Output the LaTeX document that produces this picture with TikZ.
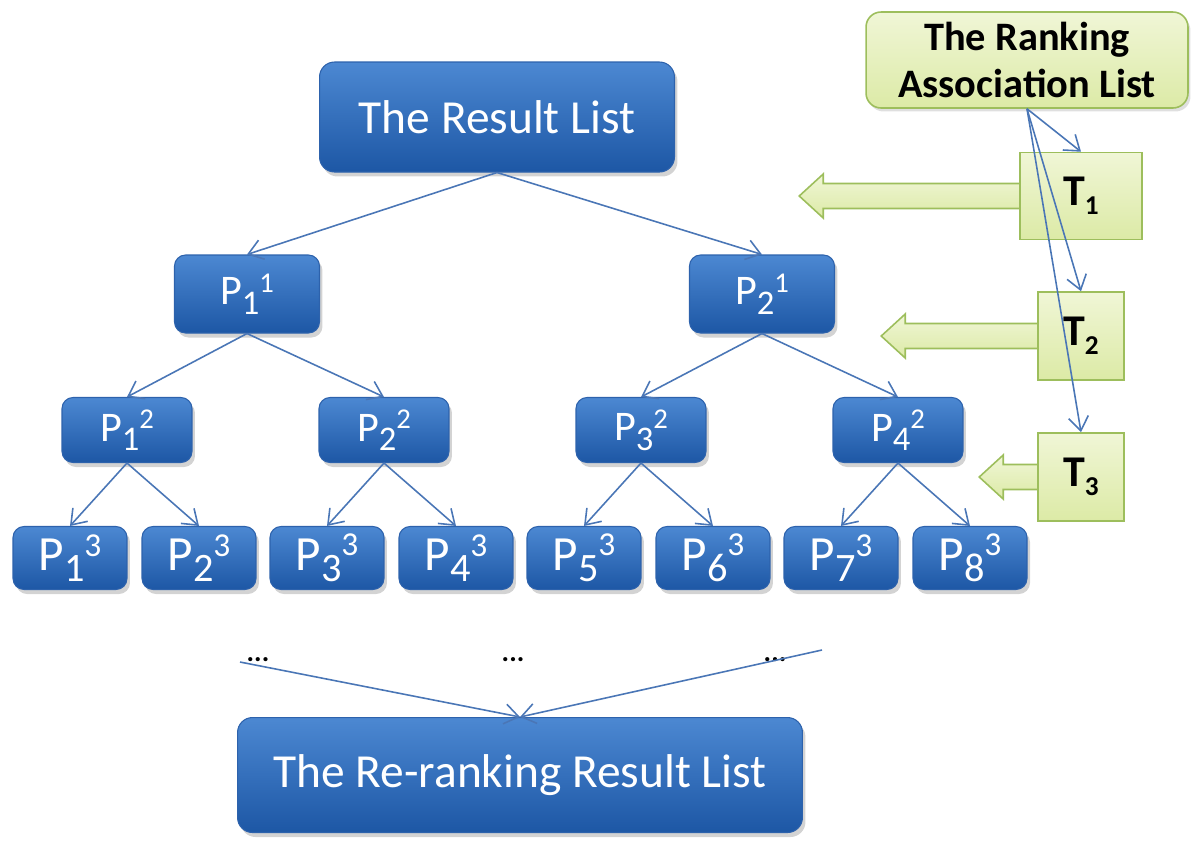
\documentclass[tikz,border=0pt]{standalone}
\usepackage{fontspec}
\setmainfont{Carlito}
\usepackage{tikz}
\usetikzlibrary{arrows.meta,backgrounds,positioning,shadows}
\definecolor{boxtop}{HTML}{4C88D2}
\definecolor{boxbottom}{HTML}{1D57A5}
\definecolor{boxdraw}{HTML}{2D62AC}
\definecolor{edgecolor}{HTML}{4A76B6}
\definecolor{greentop}{HTML}{F0F6D6}
\definecolor{greenbottom}{HTML}{DCEAA6}
\definecolor{greendraw}{HTML}{9DBE5C}
\tikzset{
  >={Straight Barb[length=2.8mm,width=4mm]},
  result box/.style={
    rounded corners=3mm,
    draw=boxdraw,
    line width=0.6pt,
    top color=boxtop,
    bottom color=boxbottom,
    text=white,
    inner sep=0pt,
    font=\fontsize{27}{32}\selectfont,
    drop shadow={opacity=0.35,shadow xshift=0.6mm,shadow yshift=-0.9mm}
  },
  page box/.style={
    result box,
    rounded corners=2.2mm,
    font=\fontsize{24}{28}\selectfont
  },
  leaf box/.style={
    page box,
    font=\fontsize{28}{32}\selectfont
  },
  assoc box/.style={
    rounded corners=3mm,
    draw=greendraw,
    line width=0.9pt,
    top color=greentop,
    bottom color=greenbottom,
    inner sep=0pt,
    align=center,
    font=\bfseries\fontsize{23}{27}\selectfont,
    drop shadow={opacity=0.25,shadow xshift=0.5mm,shadow yshift=-0.7mm}
  },
  term box/.style={
    draw=greendraw,
    line width=0.9pt,
    top color=greentop,
    bottom color=greenbottom,
    inner sep=0pt,
    font=\bfseries\fontsize{25}{28}\selectfont
  },
  connection/.style={
    draw=edgecolor,
    line width=0.9pt,
    ->
  },
  block arrow/.style={
    draw=greendraw,
    line width=0.9pt,
    top color=greentop,
    bottom color=greenbottom
  },
  dots/.style={
    font=\bfseries\fontsize{16}{18}\selectfont
  }
}
\newcommand{\plabel}[2]{P\raisebox{-0.22em}{\scalebox{0.82}{#1}}\raisebox{0.3em}{\scalebox{0.68}{#2}}}
\newcommand{\tlabel}[1]{T\raisebox{-0.2em}{\scalebox{0.62}{#1}}}
% arrow pointing left out of a term box: node, shaft length
\newcommand{\blockarrow}[2]{%
  \begin{scope}[on background layer]
    \path[block arrow] ([xshift=1mm]#1.west) ++(0,-12.5) -- ++(-#2,0)
      -- ++(0,-9.5) -- ++(-24,22) -- ++(24,22) -- ++(0,-9.5)
      -- ++(#2,0) -- cycle;
  \end{scope}
}

\begin{document}
\begin{tikzpicture}[x=0.02cm,y=-0.02cm]
  \useasboundingbox (0,0) rectangle (1200,850);

  % tree
  \node[result box,minimum width=71mm,minimum height=22mm] (R) at (497,117) {The Result List};

  \node[page box,minimum width=29mm,minimum height=15.6mm] (P-1-1) at (247,294) {\plabel{1}{1}};
  \node[page box,minimum width=29mm,minimum height=15.6mm] (P-1-2) at (762,294) {\plabel{2}{1}};

  \node[page box,minimum width=26mm,minimum height=13mm] (P-2-1) at (127,430) {\plabel{1}{2}};
  \node[page box,minimum width=26mm,minimum height=13mm] (P-2-2) at (384,430) {\plabel{2}{2}};
  \node[page box,minimum width=26mm,minimum height=13mm] (P-2-3) at (641,430) {\plabel{3}{2}};
  \node[page box,minimum width=26mm,minimum height=13mm] (P-2-4) at (898,430) {\plabel{4}{2}};

  \foreach \i/\x in {1/70,2/199,3/327,4/456,5/584,6/713,7/841,8/970}{
    \node[leaf box,minimum width=22.8mm,minimum height=12.6mm] (P-3-\i) at (\x,558) {\plabel{\i}{3}};
  }

  \node[result box,minimum width=113mm,minimum height=23mm] (RR) at (520,775) {The Re-ranking Result List};

  \foreach \a/\b in {R/P-1-1,R/P-1-2,
                     P-1-1/P-2-1,P-1-1/P-2-2,P-1-2/P-2-3,P-1-2/P-2-4,
                     P-2-1/P-3-1,P-2-1/P-3-2,P-2-2/P-3-3,P-2-2/P-3-4,
                     P-2-3/P-3-5,P-2-3/P-3-6,P-2-4/P-3-7,P-2-4/P-3-8}{
    \draw[connection] (\a.south) -- (\b.north);
  }

  \node[dots] (D-1) at (258,660) {...};
  \node[dots] (D-2) at (513,660) {...};
  \node[dots] (D-3) at (775,660) {...};
  \coordinate (L-end) at (240,662);
  \coordinate (R-end) at (822,650);
  \draw[connection] (L-end) -- (RR.north);
  \draw[connection] (R-end) -- (RR.north);

  % ranking association list
  \node[assoc box,minimum width=64.4mm,minimum height=19.2mm] (A) at (1027,60)
    {The Ranking\\Association List};
  \node[term box,minimum width=24.4mm,minimum height=17.4mm] (T-1) at (1081,196) {\tlabel{1}};
  \node[term box,minimum width=17.2mm,minimum height=17.6mm] (T-2) at (1081,336) {\tlabel{2}};
  \node[term box,minimum width=17.2mm,minimum height=17.6mm] (T-3) at (1081,477) {\tlabel{3}};

  \blockarrow{T-1}{201}
  \blockarrow{T-2}{137}
  \blockarrow{T-3}{39}

  \foreach \t in {1,2,3}{
    \draw[connection] (A.south) -- (T-\t.north);
  }
\end{tikzpicture}
\end{document}
